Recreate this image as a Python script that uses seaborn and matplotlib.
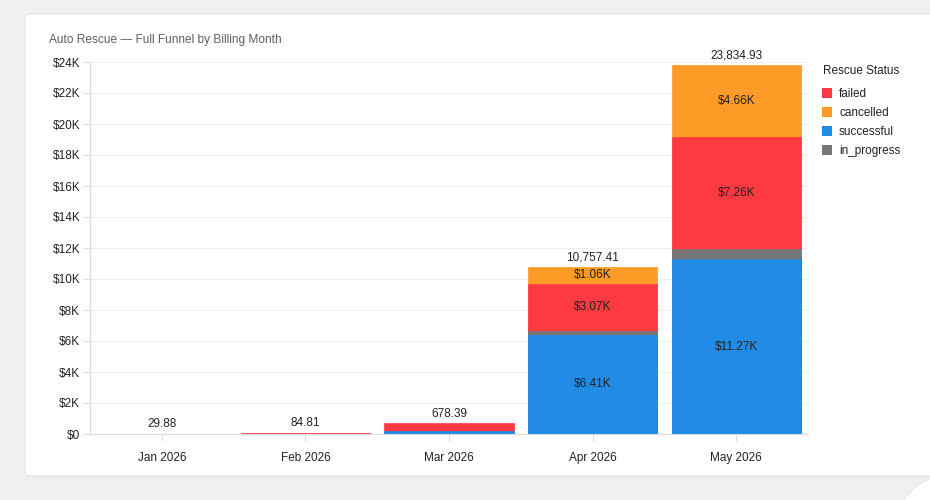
import numpy as np
import pandas as pd
import matplotlib
matplotlib.use("Agg")
import matplotlib.pyplot as plt
import seaborn as sns
from matplotlib.patches import FancyBboxPatch, Patch, Circle

months = ["Jan 2026", "Feb 2026", "Mar 2026", "Apr 2026", "May 2026"]
successful = [0.0, 0.0, 190.0, 6410.0, 11270.0]
in_progress = [0.0, 0.0, 0.0, 217.41, 644.93]
failed = [29.88, 84.81, 488.39, 3070.0, 7260.0]
cancelled = [0.0, 0.0, 0.0, 1060.0, 4660.0]
yticks = list(range(0, 24001, 2000))

colors = {"failed": "#fd3a41", "cancelled": "#fe9a26",
          "successful": "#228be6", "in_progress": "#777777"}
stack_order = ["successful", "in_progress", "failed", "cancelled"]
legend_order = ["failed", "cancelled", "successful", "in_progress"]
series = {"successful": successful, "in_progress": in_progress,
          "failed": failed, "cancelled": cancelled}

sns.set_theme(style="white")
plt.rcParams["font.family"] = ["Liberation Sans", "DejaVu Sans"]

fig = plt.figure(figsize=(9.3, 5.0), dpi=100)
fig.patch.set_facecolor("#f0f0f0")
card = FancyBboxPatch((25 / 930, 1 - 476 / 500), 0.99, (476 - 14) / 500,
                      boxstyle="round,pad=0,rounding_size=0.008",
                      transform=fig.transFigure, facecolor="white",
                      edgecolor="#e4e4e4", linewidth=0.8, zorder=-3)
fig.patches.append(card)
circ = Circle((9.5, -0.30), 0.55, transform=fig.dpi_scale_trans,
              facecolor="white", edgecolor="#e6e6e6", linewidth=0.8, zorder=-2)
fig.patches.append(circ)

ax = fig.add_axes([90 / 930, 1 - 434 / 500, (808 - 90) / 930, (434 - 62) / 500])
ax.set_facecolor("none")

df = pd.DataFrame({"month": months, **series})
cum = df[stack_order].cumsum(axis=1)
for status in reversed(stack_order):
    y = cum[status].where(df[status] > 0)
    sns.barplot(x=df["month"], y=y, color=colors[status], order=months,
                width=0.9, ax=ax, saturation=1, linewidth=0.5,
                edgecolor=colors[status], zorder=3)

ax.set_ylim(0, 24000)
ax.set_xlim(-0.5, 4.5)
ax.set_yticks(yticks)
ax.set_yticklabels(["$0" if v == 0 else f"${v // 1000}K" for v in yticks])
ax.set_xlabel("")
ax.set_ylabel("")
ax.grid(axis="y", color="#efefef", linewidth=0.8, zorder=0)
ax.set_axisbelow(True)
for s in ["top", "right"]:
    ax.spines[s].set_visible(False)
for s in ["left", "bottom"]:
    ax.spines[s].set_color("#dcdcdc")
    ax.spines[s].set_linewidth(0.9)
    ax.spines[s].set_zorder(1)
ax.tick_params(axis="both", colors="#dcdcdc", labelcolor="#222222",
               labelsize=8.5, length=5, width=0.8, left=True, bottom=True)
ax.tick_params(axis="x", pad=8)
ax.tick_params(axis="y", pad=2)

totals = df[stack_order].sum(axis=1).values
for i, t in enumerate(totals):
    ax.annotate(f"{t:,.2f}", (i, t), xytext=(0, 2.5), textcoords="offset points",
                ha="center", va="bottom", fontsize=8.5, color="#222222")
for i in range(len(months)):
    base = 0.0
    for status in stack_order:
        v = series[status][i]
        if v >= 1000:
            ax.text(i, base + v / 2, f"${v / 1000:.2f}K", ha="center",
                    va="center", fontsize=8.5, color="#222222", zorder=5)
        base += v

fig.text(49 / 930, 1 - 40 / 500, "Auto Rescue — Full Funnel by Billing Month",
         fontsize=8.6, color="#5a5f6a", ha="left", va="center")

fig.text(823 / 930, 1 - 71 / 500, "Rescue Status", fontsize=8.5,
         color="#222222", ha="left", va="center")
handles = [Patch(facecolor=colors[s], edgecolor="none") for s in legend_order]
leg = fig.legend(handles, legend_order,
                 loc="upper left", bbox_to_anchor=(822 / 930, 1 - 88 / 500),
                 frameon=False, fontsize=8.5,
                 handlelength=0.85, handleheight=0.85, handletextpad=0.6,
                 labelspacing=0.6, borderaxespad=0, borderpad=0)
for t in leg.get_texts():
    t.set_color("#222222")

fig.savefig("out.png", dpi=100, facecolor=fig.get_facecolor())
